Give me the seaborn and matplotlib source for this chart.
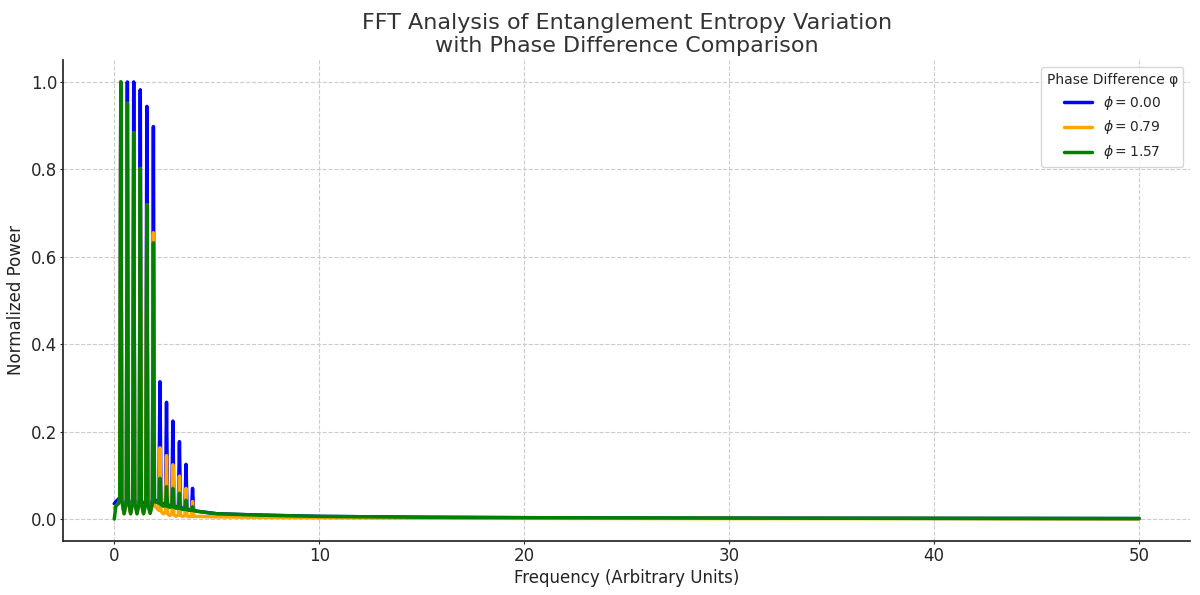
import matplotlib
matplotlib.use("Agg")
import matplotlib.pyplot as plt
import pandas as pd
import seaborn as sns

# frequencies: shoulder/peak/shoulder/trough for the 12 spikes, then the tail
FREQ = [0.00, 0.08, 0.20,
        0.27, 0.32, 0.37, 0.48,
        0.59, 0.64, 0.69, 0.80,
        0.90, 0.95, 1.00, 1.11,
        1.22, 1.27, 1.32, 1.43,
        1.54, 1.59, 1.64, 1.75,
        1.86, 1.91, 1.96, 2.07,
        2.18, 2.23, 2.28, 2.39,
        2.50, 2.55, 2.60, 2.71,
        2.81, 2.86, 2.91, 3.02,
        3.13, 3.18, 3.23, 3.34,
        3.45, 3.50, 3.55, 3.66,
        3.77, 3.82, 3.87,
        4.0, 5.0, 7.0, 10.0, 15.0, 20.0, 30.0, 40.0, 50.0]

POWER_00 = [0.035, 0.040, 0.045,
            0.050, 1.000, 0.045, 0.016,
            0.045, 1.000, 0.045, 0.015,
            0.045, 1.000, 0.045, 0.015,
            0.045, 0.982, 0.045, 0.016,
            0.045, 0.944, 0.045, 0.018,
            0.045, 0.898, 0.045, 0.040,
            0.045, 0.314, 0.040, 0.030,
            0.038, 0.267, 0.035, 0.028,
            0.034, 0.224, 0.032, 0.025,
            0.031, 0.177, 0.029, 0.022,
            0.027, 0.125, 0.025, 0.020,
            0.023, 0.070, 0.021,
            0.018, 0.012, 0.009, 0.006, 0.004, 0.003, 0.002, 0.0015, 0.001]

POWER_079 = [0.025, 0.030, 0.035,
             0.045, 1.000, 0.042, 0.012,
             0.040, 0.951, 0.040, 0.012,
             0.040, 0.884, 0.038, 0.012,
             0.038, 0.802, 0.036, 0.012,
             0.036, 0.719, 0.034, 0.013,
             0.034, 0.655, 0.032, 0.025,
             0.020, 0.163, 0.018, 0.012,
             0.015, 0.145, 0.012, 0.008,
             0.012, 0.124, 0.010, 0.006,
             0.010, 0.098, 0.008, 0.006,
             0.008, 0.070, 0.007, 0.005,
             0.007, 0.040, 0.006,
             0.006, 0.005, 0.004, 0.003, 0.002, 0.0015, 0.001, 0.001, 0.0005]

POWER_157 = [0.000, 0.030, 0.035,
             0.045, 1.000, 0.042, 0.012,
             0.040, 0.951, 0.040, 0.012,
             0.040, 0.884, 0.038, 0.012,
             0.038, 0.802, 0.036, 0.012,
             0.036, 0.719, 0.034, 0.013,
             0.034, 0.632, 0.040, 0.038,
             0.036, 0.093, 0.033, 0.030,
             0.030, 0.074, 0.029, 0.027,
             0.028, 0.070, 0.027, 0.025,
             0.025, 0.059, 0.024, 0.022,
             0.022, 0.043, 0.021, 0.020,
             0.020, 0.028, 0.019,
             0.018, 0.012, 0.009, 0.006, 0.004, 0.003, 0.002, 0.0015, 0.001]

LABELS = [r"$\phi = 0.00$", r"$\phi = 0.79$", r"$\phi = 1.57$"]
COLORS = ["blue", "orange", "green"]

sns.set_theme(style="ticks", rc={"axes.grid": True, "grid.linestyle": "--",
                                 "grid.color": "#cccccc", "grid.linewidth": 0.8})
plt.rcParams["font.family"] = ["DejaVu Sans"]

df = pd.concat([
    pd.DataFrame({"freq": FREQ, "power": vals, "phase": lab})
    for vals, lab in zip([POWER_00, POWER_079, POWER_157], LABELS)
])

fig, ax = plt.subplots(figsize=(12, 5.95), dpi=100)
fig.subplots_adjust(left=0.0525, right=0.992, top=0.899, bottom=0.091)

sns.lineplot(data=df, x="freq", y="power", hue="phase", palette=COLORS,
             hue_order=LABELS, linewidth=2.5, ax=ax, sort=False)

ax.set_xlim(-2.5, 52.5)
ax.set_ylim(-0.05, 1.05)
ax.set_xlabel("Frequency (Arbitrary Units)", fontsize=12, color="#222222", labelpad=3)
ax.set_ylabel("Normalized Power", fontsize=12, color="#222222", labelpad=4)
ax.set_title("FFT Analysis of Entanglement Entropy Variation\nwith Phase Difference Comparison",
             fontsize=16, color="#333333")
ax.tick_params(labelsize=12, length=2.2, pad=2, width=0.8)
sns.despine(ax=ax)

ax.legend(title="Phase Difference φ", loc="upper right", fontsize=10,
          title_fontsize=10, frameon=True)

fig.savefig("out.png")
